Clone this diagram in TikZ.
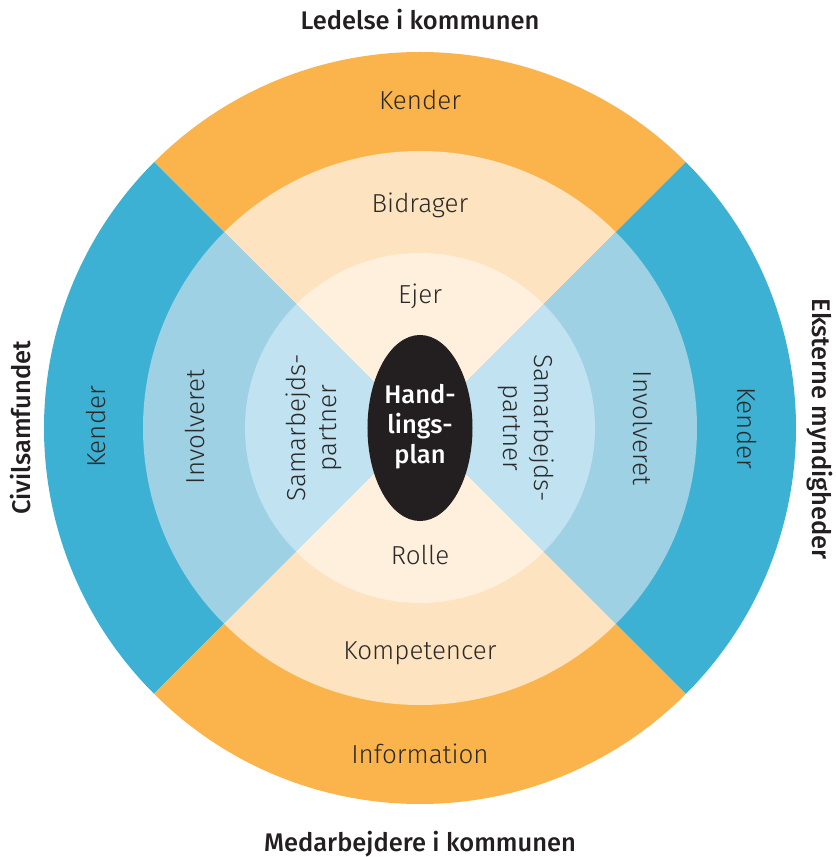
\documentclass[tikz,border=0pt]{standalone}
\usepackage{fontspec}
\setmainfont{Fira Sans Light}
\newfontfamily\headfont{Fira Sans Medium}
\usetikzlibrary{shapes.geometric}

\definecolor{orangeA}{HTML}{FBB44C}
\definecolor{orangeB}{HTML}{FDE3BF}
\definecolor{orangeC}{HTML}{FEF0DC}
\definecolor{blueA}{HTML}{3CB1D3}
\definecolor{blueB}{HTML}{9FD1E4}
\definecolor{blueC}{HTML}{C0E2F1}
\definecolor{planblack}{HTML}{231F20}
\definecolor{labelgray}{HTML}{2B2A29}

\tikzset{
  ringlabel/.style={font=\fontsize{14.8}{17.5}\selectfont, text=labelgray, inner sep=0pt, align=center},
  headlabel/.style={font=\headfont\fontsize{14.5}{17}\selectfont, text=planblack, inner sep=0pt},
}

\begin{document}
\begin{tikzpicture}[x=0.2mm,y=0.2mm]
    \useasboundingbox (-420,-429) rectangle (415,428);
    % rings, outside in
    \foreach \r/\cs/\ct in {376/blueA/orangeA, 277/blueB/orangeB, 175/blueC/orangeC} {
        \fill[\ct] (0,0) -- (45:\r) arc[start angle=45, end angle=135, radius=\r] -- cycle;
        \fill[\cs] (0,0) -- (135:\r) arc[start angle=135, end angle=225, radius=\r] -- cycle;
        \fill[\ct] (0,0) -- (225:\r) arc[start angle=225, end angle=315, radius=\r] -- cycle;
        \fill[\cs] (0,0) -- (-45:\r) arc[start angle=-45, end angle=45, radius=\r] -- cycle;
    }
    \node[ellipse, fill=planblack, minimum width=2.1cm, minimum height=3.72cm] (plan) at (0,0) {};
    \node[headlabel, text=white, align=center] (plantext) at (0,1) {Hand-\\lings-\\plan};

    % groups
    \node[headlabel, anchor=base] (ledelse) at (0,398) {Ledelse i kommunen};
    \node[headlabel, anchor=base] (medarb) at (0,-423) {Medarbejdere i kommunen};
    \node[headlabel, anchor=base, rotate=90] (civil) at (-389,0) {Civilsamfundet};
    \node[headlabel, anchor=base, rotate=-90] (ekstern) at (392,-1) {Eksterne myndigheder};

    % top and bottom
    \node[ringlabel, anchor=base] (kendertop) at (0,318) {Kender};
    \node[ringlabel, anchor=base] (bidrager) at (0,215) {Bidrager};
    \node[ringlabel, anchor=base] (ejer) at (0,124) {Ejer};
    \node[ringlabel, anchor=base] (rolle) at (0,-136) {Rolle};
    \node[ringlabel, anchor=base] (kompetencer) at (0,-231) {Kompetencer};
    \node[ringlabel, anchor=base] (information) at (0,-335) {Information};

    % left and right
    \node[ringlabel, anchor=base, rotate=90] (kenderleft) at (-314,1) {Kender};
    \node[ringlabel, anchor=base, rotate=90] (involvleft) at (-215,1) {Involveret};
    \node[ringlabel, rotate=90] (samleft) at (-106,0) {Samarbejds-\\partner};
    \node[ringlabel, anchor=base, rotate=-90] (kenderright) at (317,0) {Kender};
    \node[ringlabel, anchor=base, rotate=-90] (involvright) at (213,0) {Involveret};
    \node[ringlabel, rotate=-90] (samright) at (106,0) {Samarbejds-\\partner};
\end{tikzpicture}
\end{document}
